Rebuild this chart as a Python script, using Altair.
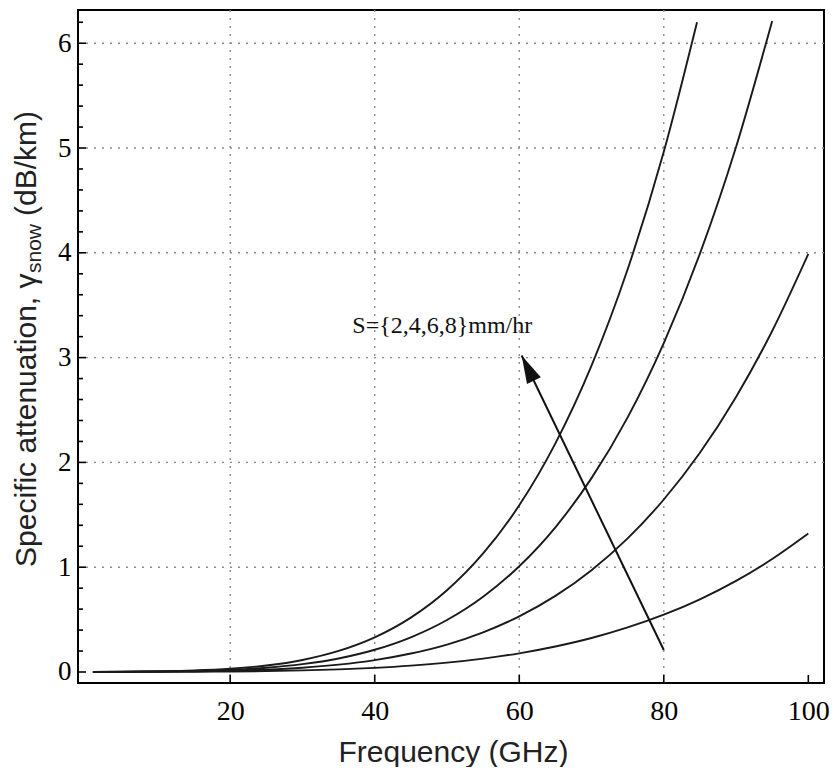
import altair as alt
import pandas as pd

# ---- data ----
freq = [1, 5, 10, 15, 20, 25, 30, 35, 40, 45, 50, 55, 60, 65, 70, 75, 80, 85, 90, 95, 100]
snow2 = [0.0002, 0.0008, 0.0016, 0.0029, 0.0051, 0.0088, 0.0151, 0.0248, 0.0394, 0.0603, 0.0891,
         0.128, 0.178, 0.243, 0.324, 0.425, 0.547, 0.694, 0.870, 1.078, 1.321]
snow4 = [0.0003, 0.0015, 0.0034, 0.0065, 0.0123, 0.0229, 0.041, 0.070, 0.113, 0.176, 0.262,
         0.379, 0.531, 0.726, 0.972, 1.275, 1.646, 2.092, 2.625, 3.254, 3.989]
freq6 = [1, 5, 10, 15, 20, 25, 30, 35, 40, 45, 50, 55, 60, 65, 70, 75, 80, 85, 90, 95]
snow6 = [0.0004, 0.0023, 0.0052, 0.0106, 0.0211, 0.0408, 0.0748, 0.129, 0.212, 0.331, 0.496,
         0.718, 1.009, 1.381, 1.850, 2.430, 3.139, 3.992, 5.010, 6.213]
freq8 = [1, 5, 10, 15, 20, 25, 30, 35, 40, 45, 50, 55, 60, 65, 70, 75, 80, 84.6]
snow8 = [0.0006, 0.0031, 0.0072, 0.0150, 0.0312, 0.0618, 0.115, 0.201, 0.331, 0.519, 0.780,
         1.131, 1.591, 2.182, 2.924, 3.843, 4.964, 6.20]

x_ticks = [20, 40, 60, 80, 100]
x_grid = [20, 40, 60, 80]
y_major = [0, 1, 2, 3, 4, 5, 6]
y_grid = [1, 2, 3, 4, 5, 6]
y_minor = [round(i * 0.2, 1) for i in range(32) if i % 5 != 0]

note_text = ["S={2,4,6,8}mm/hr"]
note_x = [36.9]
note_y = [3.235]
arrow_tail = (80.0, 0.21)
arrow_tip = (60.33, 3.02)

# ---- tables ----
rows = []
for lab, fs, vals in [("2", freq, snow2), ("4", freq, snow4), ("6", freq6, snow6), ("8", freq8, snow8)]:
    for f, v in zip(fs, vals):
        rows.append({"f": f, "g": v, "S": lab})
curves = pd.DataFrame(rows)

W, H = 746, 673
x_scale = alt.Scale(domain=[-1.06, 102.17], nice=False, zero=False)
y_scale = alt.Scale(domain=[-0.105, 6.317], nice=False, zero=False)

x_axis = alt.Axis(values=x_ticks, grid=False, ticks=False, tickSize=0, domain=False,
                  labelFont="Liberation Serif", labelFontSize=28, labelColor="black",
                  labelPadding=14, labelFlush=False, labelOverlap=False,
                  title="Frequency (GHz)", titleFont="Liberation Sans", titleFontSize=30,
                  titleFontWeight="normal", titleColor="#222", titleX=375, titleY=78,
                  titleAlign="center", titleBaseline="alphabetic")
y_axis = alt.Axis(values=y_major, grid=False, ticks=False, tickSize=0, domain=False,
                  labelFont="Liberation Serif", labelFontSize=27, labelColor="black",
                  labelPadding=7, labelFlush=False, labelOverlap=False, title="")

X = lambda: alt.X("f:Q", scale=x_scale, axis=x_axis)
Y = lambda: alt.Y("g:Q", scale=y_scale, axis=y_axis)

grid_style = dict(color="#8c8c8c", strokeWidth=1.4, strokeDash=[2, 6])
hgrid = alt.Chart(pd.DataFrame({"g": y_grid})).mark_rule(**grid_style).encode(y=Y())
vgrid = alt.Chart(pd.DataFrame({"f": x_grid})).mark_rule(**grid_style).encode(x=X())

lines = alt.Chart(curves).mark_line(interpolate="monotone", color="#1a1a1a", strokeWidth=1.9).encode(
    x=X(), y=Y(), detail="S:N")

ymaj = alt.Chart(pd.DataFrame({"g": y_major})).mark_rule(color="black", strokeWidth=1.6).encode(
    y=Y(), x=alt.value(0), x2=alt.value(8))
ymin = alt.Chart(pd.DataFrame({"g": y_minor})).mark_rule(color="black", strokeWidth=1.6).encode(
    y=Y(), x=alt.value(0), x2=alt.value(5))
xmaj = alt.Chart(pd.DataFrame({"f": x_ticks})).mark_rule(color="black", strokeWidth=1.6).encode(
    x=X(), y=alt.value(H), y2=alt.value(H - 8))

arrow_df = pd.DataFrame({"f": [arrow_tail[0]], "g": [arrow_tail[1]],
                         "f2": [arrow_tip[0]], "g2": [arrow_tip[1]]})
arrow_line = alt.Chart(arrow_df).mark_rule(color="#111", strokeWidth=2).encode(
    x=X(), y=Y(), x2="f2:Q", y2="g2:Q")
head = alt.Chart(pd.DataFrame({"f": [arrow_tip[0]], "g": [arrow_tip[1]]})).mark_point(
    shape="M0,0L-0.55,2L0.55,2Z", size=784, angle=334, filled=True, color="#111",
    opacity=1, strokeWidth=0).encode(x=X(), y=Y())

note = alt.Chart(pd.DataFrame({"f": note_x, "g": note_y, "t": note_text})).mark_text(
    font="Liberation Serif", fontSize=24, color="#111", align="left", baseline="alphabetic").encode(
    x=X(), y=Y(), text="t:N")

tstyle = dict(font="Liberation Sans", color="#222", angle=270, align="left", baseline="alphabetic")
t1 = alt.Chart(pd.DataFrame({"t": ["Specific attenuation, γ"]})).mark_text(fontSize=30, **tstyle).encode(
    text="t:N", x=alt.value(-42), y=alt.value(557))
t2 = alt.Chart(pd.DataFrame({"t": ["snow"]})).mark_text(fontSize=21, **tstyle).encode(
    text="t:N", x=alt.value(-37), y=alt.value(263))
t3 = alt.Chart(pd.DataFrame({"t": ["(dB/km)"]})).mark_text(fontSize=30, **tstyle).encode(
    text="t:N", x=alt.value(-42), y=alt.value(206))

chart = alt.layer(hgrid, vgrid, lines, ymaj, ymin, xmaj, arrow_line, head, note, t1, t2, t3).properties(
    width=W, height=H,
    padding={"left": 70, "top": 2, "right": 6, "bottom": 84},
    autosize=alt.AutoSizeParams(type="none"),
    background="white",
).configure_view(stroke="black", strokeWidth=2)

chart.save("out.html", embed_options={"renderer": "svg", "actions": False})
